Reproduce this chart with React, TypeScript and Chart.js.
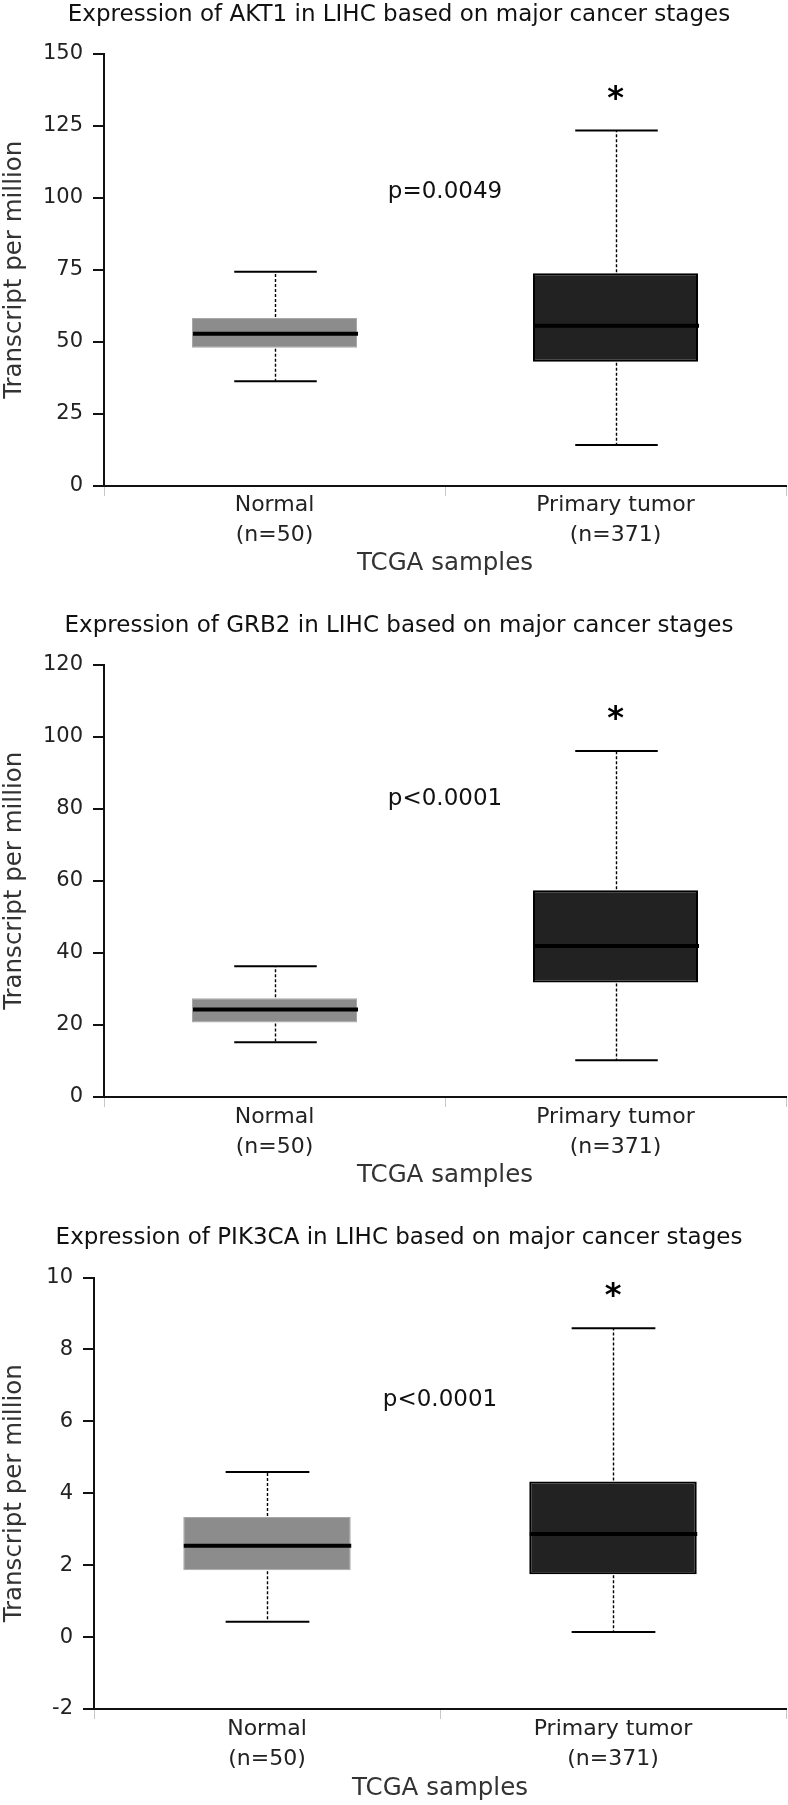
import React, { useEffect, useRef } from "react";
import { Chart, registerables } from "chart.js";

Chart.register(...registerables);

// ---------- data ----------
const CATEGORIES = [["Normal", "(n=50)"], ["Primary tumor", "(n=371)"]];
const GENES = ["AKT1", "GRB2", "PIK3CA"];
const P_VALUES = ["p=0.0049", "p<0.0001", "p<0.0001"];

// box statistics: [min, q1, median, q3, max]
const AKT1_NORMAL = [36.3, 48.0, 52.8, 58.3, 74.3];
const AKT1_TUMOR = [14.2, 43.1, 55.6, 73.8, 123.3];
const GRB2_NORMAL = [15.2, 20.7, 24.3, 27.4, 36.3];
const GRB2_TUMOR = [10.2, 31.8, 41.9, 57.4, 96.0];
const PIK3CA_NORMAL = [0.43, 1.86, 2.54, 3.34, 4.59];
const PIK3CA_TUMOR = [0.14, 1.75, 2.87, 4.33, 8.59];

// y-axis tick values
const AKT1_TICKS = [0, 25, 50, 75, 100, 125, 150];
const GRB2_TICKS = [0, 20, 40, 60, 80, 100, 120];
const PIK3CA_TICKS = [-2, 0, 2, 4, 6, 8, 10];

// value (in data units) at which the p-value text baseline sits
const P_TEXT_LEVEL = [99.9, 80.9, 6.43];

// ---------- layout ----------
const FONT = "DejaVu Sans";
const PANELS = [
  { normal: AKT1_NORMAL, tumor: AKT1_TUMOR, ticks: AKT1_TICKS, top: 0, height: 578, axisX: 104, titlePadBottom: 26, xHeight: 92, tickPad: -6 },
  { normal: GRB2_NORMAL, tumor: GRB2_TUMOR, ticks: GRB2_TICKS, top: 611, height: 579, axisX: 104, titlePadBottom: 26, xHeight: 93, tickPad: -5 },
  { normal: PIK3CA_NORMAL, tumor: PIK3CA_TUMOR, ticks: PIK3CA_TICKS, top: 1223, height: 580, axisX: 94, titlePadBottom: 27, xHeight: 94, tickPad: -5 },
];

function makeBoxPlugin(stats: number[][], pText: string, pLevel: number) {
  return {
    id: "boxWhiskers",
    afterDatasetsDraw(chart: any) {
      const { ctx } = chart;
      const xs = chart.scales.x;
      const ys = chart.scales.y;
      const meta = chart.getDatasetMeta(0);
      stats.forEach((s, i) => {
        const bar: any = meta.data[i];
        const cx = Math.round(bar.x) + 0.5;
        const w = bar.width;
        const [mn, q1, med, q3, mx] = s;
        const yMin = ys.getPixelForValue(mn);
        const yQ1 = ys.getPixelForValue(q1);
        const yMed = ys.getPixelForValue(med);
        const yQ3 = ys.getPixelForValue(q3);
        const yMax = ys.getPixelForValue(mx);
        ctx.save();
        ctx.strokeStyle = "#000";
        ctx.lineWidth = 1.4;
        ctx.setLineDash([3, 2]);
        ctx.beginPath();
        ctx.moveTo(cx, yQ3 - 1);
        ctx.lineTo(cx, yMax);
        ctx.moveTo(cx, yQ1 + 1);
        ctx.lineTo(cx, yMin);
        ctx.stroke();
        ctx.setLineDash([]);
        ctx.lineWidth = 2;
        ctx.beginPath();
        ctx.moveTo(cx - w / 4, yMax);
        ctx.lineTo(cx + w / 4, yMax);
        ctx.moveTo(cx - w / 4, yMin);
        ctx.lineTo(cx + w / 4, yMin);
        ctx.stroke();
        ctx.lineWidth = 4;
        ctx.beginPath();
        ctx.moveTo(cx - w / 2, yMed);
        ctx.lineTo(cx + w / 2, yMed);
        ctx.stroke();
        ctx.restore();
      });
      // significance asterisk above the tumor whisker
      const tBar: any = meta.data[1];
      const tMax = ys.getPixelForValue(stats[1][4]);
      ctx.save();
      ctx.fillStyle = "#000";
      ctx.font = `bold 32px "${FONT}"`;
      ctx.textAlign = "center";
      ctx.textBaseline = "alphabetic";
      ctx.fillText("*", tBar.x, tMax - 23);
      // p-value text
      ctx.font = `23px "${FONT}"`;
      ctx.fillStyle = "#111";
      ctx.fillText(pText, xs.getPixelForValue(0.5), ys.getPixelForValue(pLevel));
      ctx.restore();
    },
  };
}

function Panel({ idx }: { idx: number }) {
  const ref = useRef<HTMLCanvasElement | null>(null);
  const p = PANELS[idx];
  useEffect(() => {
    if (!ref.current) return;
    const stats = [p.normal, p.tumor];
    const ticks = p.ticks;
    const chart = new Chart(ref.current, {
      type: "bar",
      data: {
        labels: CATEGORIES,
        datasets: [
          {
            data: stats.map((s) => [s[1], s[3]]) as any,
            backgroundColor: ["#8c8c8c", "#222222"],
            borderColor: ["#a8a8a8", "#000000"],
            borderWidth: [1, 2] as any,
            borderSkipped: false,
            barPercentage: 0.484,
            categoryPercentage: 1,
          },
        ],
      },
      options: {
        responsive: false,
        animation: false,
        devicePixelRatio: 1,
        layout: { padding: { left: 12, right: 2, top: 0, bottom: 0 } },
        plugins: {
          legend: { display: false },
          tooltip: { enabled: false },
          title: {
            display: true,
            text: `Expression of ${GENES[idx]} in LIHC based on major cancer stages`,
            font: { family: FONT, size: 23, weight: "normal" },
            color: "#111",
            padding: { top: 1, bottom: p.titlePadBottom - 1 },
          },
        },
        scales: {
          x: {
            offset: true,
            grid: {
              display: true,
              offset: true,
              drawOnChartArea: false,
              drawTicks: true,
              tickLength: 10,
              color: "#c8c8c8",
              lineWidth: 1,
            },
            border: { display: true, color: "#111", width: 2 },
            ticks: {
              font: { family: FONT, size: 22, lineHeight: 1.37 },
              color: "#222",
              padding: p.tickPad,
              maxRotation: 0,
              autoSkip: false,
            },
            title: {
              display: true,
              text: "TCGA samples",
              font: { family: FONT, size: 24.5 },
              color: "#333",
              padding: 0,
            },
            afterFit: (s: any) => {
              s.height = p.xHeight;
            },
          },
          y: {
            min: ticks[0],
            max: ticks[ticks.length - 1],
            ticks: {
              stepSize: ticks[1] - ticks[0],
              font: { family: FONT, size: 21 },
              color: "#222",
              padding: 10,
            },
            grid: {
              drawOnChartArea: false,
              drawTicks: true,
              tickLength: 11,
              color: "#111",
              lineWidth: 2,
            },
            border: { display: true, color: "#111", width: 2 },
            title: {
              display: true,
              text: "Transcript per million",
              font: { family: FONT, size: 24.5 },
              color: "#333",
              padding: { top: -12, bottom: 0 },
            },
            afterFit: (s: any) => {
              s.width = p.axisX - 12;
            },
          },
        },
      } as any,
      plugins: [makeBoxPlugin(stats, P_VALUES[idx], P_TEXT_LEVEL[idx])],
    });
    return () => chart.destroy();
  }, []);
  return (
    <canvas
      ref={ref}
      width={788}
      height={p.height}
      style={{ position: "absolute", left: 0, top: p.top, width: 788, height: p.height, display: "block" }}
    />
  );
}

export default function App() {
  return (
    <div style={{ position: "absolute", left: 0, top: 0, width: 788, height: 1805, background: "#fff" }}>
      {PANELS.map((_, i) => (
        <Panel key={i} idx={i} />
      ))}
    </div>
  );
}
